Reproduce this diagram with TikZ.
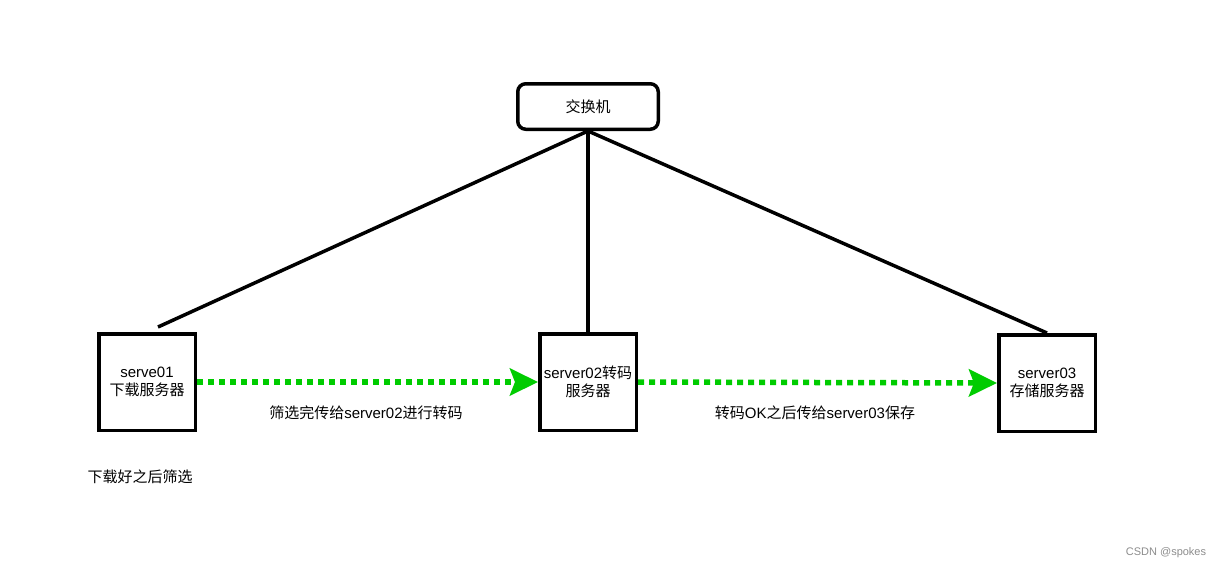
\documentclass[tikz,border=0pt]{standalone}
\usepackage{fontspec}
\setmainfont{Liberation Sans}
\newfontfamily\zhfont{Noto Sans CJK SC}
\newcommand{\zh}[1]{{\zhfont #1}}
\usetikzlibrary{arrows.meta}
\definecolor{flowgreen}{RGB}{0,204,0}

\begin{document}
\begin{tikzpicture}[x=1pt, y=-1pt,
    txt/.style={font=\fontsize{15}{18}\selectfont, text=black},
    srvbox/.style={draw, txt, line width=3.5pt, minimum width=96.5pt, minimum height=96.5pt, align=center, inner sep=1pt},
    flow/.style={draw=flowgreen, line width=5.5pt, dash pattern=on 6pt off 5pt, -{Stealth[length=28pt, width=27pt, inset=5pt, fill=flowgreen]}},
    link/.style={draw, line width=3.5pt}]

    \useasboundingbox (0,0) rectangle (1221,568);

    % switch
    \node[draw, txt, line width=3.5pt, rounded corners=8pt, minimum width=140.5pt, minimum height=45.5pt] (SW) at (588,106.5) {\zh{交换机}};

    % servers
    \node[srvbox] (S1) at (147,382) {serve01\\\zh{下载服务器}};
    \node[srvbox] (S2) at (588,382) {server02\zh{转码}\\\zh{服务器}};
    \node[srvbox] (S3) at (1047,383) {server03\\\zh{存储服务器}};

    \coordinate (E1) at (158,327);

    % links to the switch
    \draw[link] (SW.south) -- (E1);
    \draw[link] (SW.south) -- (S2.north);
    \draw[link] (SW.south) -- (S3.north);

    % transfers
    \draw[flow] (S1.east) -- (S2.west);
    \draw[flow] (S2.east) -- (S3.west);

    \node[txt] (L12) at (366,413) {\zh{筛选完传给}server02\zh{进行转码}};
    \node[txt] (L23) at (815,413) {\zh{转码}OK\zh{之后传给}server03\zh{保存}};
    \node[txt] (N1) at (140,477) {\zh{下载好之后筛选}};

    \node[font=\fontsize{11}{13}\selectfont, text=black!45] (WM) at (1166,553) {CSDN @spokes};

\end{tikzpicture}
\end{document}
